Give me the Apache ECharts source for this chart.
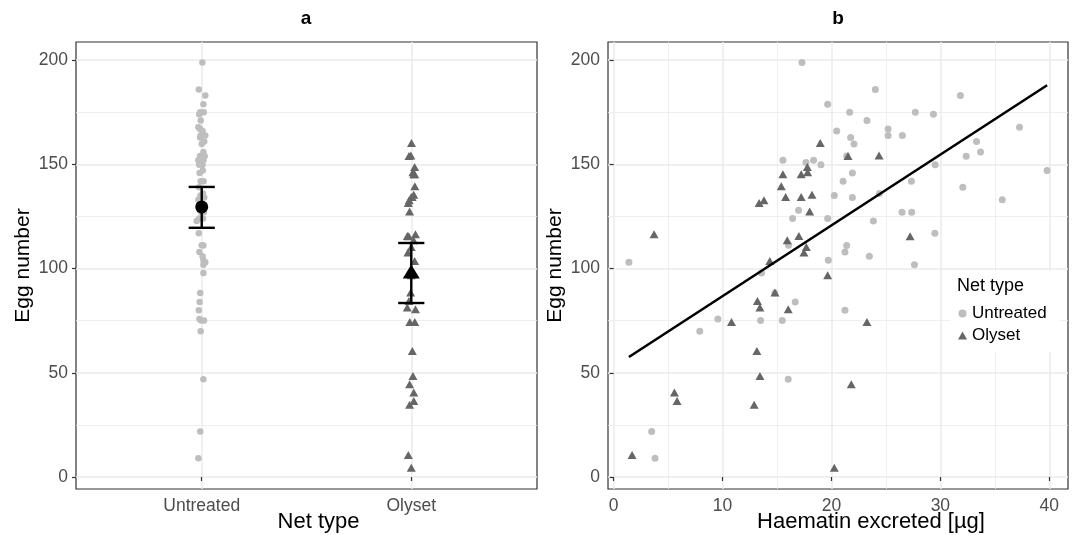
<!DOCTYPE html>
<html lang="en">
<head>
    <meta charset="UTF-8">
    <title>Egg number by net type</title>
    <script src="https://cdn.jsdelivr.net/npm/echarts@6/dist/echarts.min.js"></script>
    <style>
        body { margin: 0; background: #fff; }
        #main { width: 1075px; height: 535px; }
    </style>
</head>
<body>
<div id="main"></div>
<script>
    // data
    var netTypes = ['Untreated', 'Olyset'];

    // untreated nets: haematin excreted (µg), egg number, jitter used in panel a
    var untreatedHaem = [17.29, 19.65, 15.54, 17.66, 18.36, 19.03, 16.98, 16.43, 19.65, 1.4,
        16.05, 19.71, 13.58, 16.67, 9.57, 13.49, 15.48, 7.91, 16.03, 3.49,
        3.8, 24.03, 31.84, 21.67, 27.7, 29.36, 23.26, 20.48, 25.2, 25.2,
        26.51, 21.76, 22.07, 37.27, 33.32, 33.69, 32.37, 21.4, 29.52, 39.8,
        21.92, 21.07, 27.34, 32.06, 20.26, 21.92, 24.4, 35.68, 26.48, 27.37,
        23.85, 29.49, 21.4, 21.24, 23.48, 27.62, 21.24, 14.8];
    var untreatedEggs = [198.9, 178.9, 152, 150.9, 152, 149.9, 128, 124, 124, 103,
        111.2, 104, 97.9, 84, 75.8, 75.1, 75.1, 69.9, 46.9, 21.9,
        9, 185.9, 183.1, 175, 175, 174.1, 171.1, 166.1, 167, 163.9,
        163.9, 162.9, 159.8, 167.8, 161, 156, 153.9, 154.1, 149.9, 147.1,
        145.9, 141.9, 141.9, 139, 135.1, 134.1, 136, 133, 127, 127,
        122.9, 117, 111.1, 108, 105.9, 101.9, 80, 88.3];
    var untreatedJitter = [0.003, 0.008, 0.008, -0.008, -0.016, 0.004, -0.010, -0.012, 0.006, 0.017,
        0.000, 0.008, 0.008, -0.010, -0.011, 0.011, -0.003, -0.005, 0.008, -0.007,
        -0.016, -0.014, 0.017, -0.007, 0.010, -0.012, -0.005, 0.004, -0.008, 0.017,
        -0.005, -0.008, 0.000, -0.016, 0.012, 0.008, 0.014, -0.008, -0.012, 0.005,
        -0.010, -0.005, 0.009, -0.013, -0.006, 0.012, 0.006, -0.016, 0.010, -0.002,
        -0.024, -0.014, 0.008, -0.011, 0.004, 0.008, -0.014, -0.007];

    // Olyset nets
    var olysetHaem = [18.97, 17.78, 15.54, 17.22, 17.81, 15.39, 15.79, 17.22, 18.21, 13.36,
        13.8, 18.0, 3.71, 15.94, 17.01, 17.69, 17.47, 14.34, 19.65, 14.81,
        13.2, 13.43, 16.03, 10.82, 13.15, 13.43, 5.58, 5.82, 12.9, 1.69,
        21.52, 24.37, 27.22, 23.26, 21.82, 20.26];
    var olysetEggs = [160.3, 148.8, 145.3, 145.3, 146.2, 139.5, 134.4, 134.4, 135.5, 131.5,
        132.8, 127.4, 116.5, 113.6, 115.7, 110.4, 107.7, 103.7, 96.8, 88.6,
        84.5, 81.3, 80.5, 74.4, 60.5, 48.5, 40.5, 36.5, 34.7, 10.6,
        154.1, 154.3, 115.5, 74.4, 44.5, 4.5];
    var olysetJitter = [0.001, 0.016, 0.016, 0.012, 0.008, 0.017, 0.000, 0.004, 0.012, -0.014,
        -0.010, -0.008, 0.020, 0.011, -0.019, 0.000, -0.016, 0.016, 0.000, -0.003,
        -0.011, -0.019, 0.020, -0.007, 0.005, 0.008, 0.012, 0.012, -0.008, -0.014,
        -0.011, -0.002, -0.012, 0.017, -0.008, 0.000];

    // panel a summaries (mean with interval)
    var eggMean = [129.6, 98.6];
    var eggLow = [119.6, 83.5];
    var eggHigh = [139.2, 112.3];

    // panel b regression line ends
    var fitHaem = [1.4, 39.8];
    var fitEggs = [57.6, 188.0];

    // axis breaks
    var eggTicks = [0, 50, 100, 150, 200];
    var eggMinor = [25, 75, 125, 175];
    var haemTicks = [0, 10, 20, 30, 40];
    var haemMinor = [5, 15, 25, 35];

    var FONT = '"Liberation Sans", Arial, Helvetica, sans-serif';
    var LIGHT = '#bebebe';
    var DARK = '#666666';
    var GRID_COL = '#ebebeb';
    var CAP = 0.0625;

    function zip(xs, ys) {
        return xs.map(function (x, i) { return [x, ys[i]]; });
    }

    var untreatedA = untreatedEggs.map(function (v, i) { return [1 + untreatedJitter[i], v]; });
    var olysetA = olysetEggs.map(function (v, i) { return [2 + olysetJitter[i], v]; });

    // nudge: left padding that moves the centred axis title to the right
    function majorX(grid, min, max, ticks, fmt, name, nudge) {
        return {
            type: 'value', gridIndex: grid, min: min, max: max,
            name: name, nameLocation: 'middle', nameGap: 22, nameMoveOverlap: false,
            nameTextStyle: { fontSize: 22, color: '#000', fontFamily: FONT, padding: [0, 0, 0, nudge] },
            axisLine: { show: false },
            axisTick: { show: true, length: 4, customValues: ticks, lineStyle: { color: '#333', width: 1.2 } },
            axisLabel: { show: true, customValues: ticks, margin: 8, fontSize: 17.5, color: '#4d4d4d',
                fontFamily: FONT, formatter: fmt },
            splitLine: { show: true, lineStyle: { color: GRID_COL, width: 1.5 } }
        };
    }
    function minorAxis(type, grid, min, max, vals) {
        var ax = {
            type: 'value', gridIndex: grid, min: min, max: max,
            axisLine: { show: false },
            axisTick: { show: false, customValues: vals },
            axisLabel: { show: false },
            splitLine: { show: true, lineStyle: { color: GRID_COL, width: 0.8 } }
        };
        if (type === 'y') ax.position = 'left';
        return ax;
    }
    function majorY(grid) {
        return {
            type: 'value', gridIndex: grid, min: -5.75, max: 208.75, position: 'left',
            name: 'Egg number', nameLocation: 'middle', nameGap: 42, nameRotate: 90, nameMoveOverlap: false,
            nameTextStyle: { fontSize: 21, color: '#000', fontFamily: FONT },
            axisLine: { show: false },
            axisTick: { show: true, length: 4, customValues: eggTicks, lineStyle: { color: '#333', width: 1.2 } },
            axisLabel: { show: true, customValues: eggTicks, margin: 8, fontSize: 17.5, color: '#4d4d4d', fontFamily: FONT },
            splitLine: { show: true, lineStyle: { color: GRID_COL, width: 1.5 } }
        };
    }

    var chart = echarts.init(document.getElementById('main'));
    var option = {
        animation: false,
        backgroundColor: '#fff',
        textStyle: { fontFamily: FONT },
        title: [
            { text: 'a', left: 306, top: 9, textAlign: 'center', padding: 0,
                textStyle: { fontSize: 19, fontWeight: 'bold', color: '#000' } },
            { text: 'b', left: 838, top: 9, textAlign: 'center', padding: 0,
                textStyle: { fontSize: 19, fontWeight: 'bold', color: '#000' } },
            { text: 'Net type', left: 957, top: 277, padding: 0, z: 10,
                textStyle: { fontSize: 18, fontWeight: 'normal', color: '#000' } }
        ],
        legend: {
            orient: 'vertical', left: 950, top: 271,
            padding: [34, 14, 8, 8], itemGap: 5, itemWidth: 9, itemHeight: 8,
            backgroundColor: '#fff', selectedMode: false,
            textStyle: { fontSize: 17, color: '#000', fontFamily: FONT },
            data: [{ name: 'Untreated', icon: 'circle' }, { name: 'Olyset', icon: 'triangle' }]
        },
        grid: [
            { left: 76, top: 42, width: 461, height: 447, show: true, borderColor: '#333', borderWidth: 1.2,
                containLabel: false, outerBoundsMode: 'none' },
            { left: 608, top: 42, width: 460, height: 447, show: true, borderColor: '#333', borderWidth: 1.2,
                containLabel: false, outerBoundsMode: 'none' }
        ],
        xAxis: [
            majorX(0, 0.4, 2.6, [1, 2], function (v) { return netTypes[Math.round(v) - 1]; }, 'Net type', 24),
            majorX(1, -0.52, 41.72, haemTicks, null, 'Haematin excreted [µg]', 66),
            minorAxis('x', 1, -0.52, 41.72, haemMinor)
        ],
        yAxis: [
            majorY(0),
            minorAxis('y', 0, -5.75, 208.75, eggMinor),
            majorY(1),
            minorAxis('y', 1, -5.75, 208.75, eggMinor)
        ],
        series: [
            // panel a
            { name: 'Untreated', type: 'scatter', xAxisIndex: 0, yAxisIndex: 0, data: untreatedA,
                symbol: 'circle', symbolSize: 6.5, itemStyle: { color: LIGHT, opacity: 1 } },
            { name: 'Olyset', type: 'scatter', xAxisIndex: 0, yAxisIndex: 0, data: olysetA,
                symbol: 'triangle', symbolSize: [9, 8], itemStyle: { color: DARK, opacity: 1 } },
            { name: 'interval', type: 'custom', xAxisIndex: 0, yAxisIndex: 0, z: 5,
                encode: { x: 0, y: [1, 2] },
                data: netTypes.map(function (n, i) { return [i + 1, eggLow[i], eggHigh[i]]; }),
                renderItem: function (params, api) {
                    var x = api.value(0);
                    var top = api.coord([x, api.value(2)]);
                    var bot = api.coord([x, api.value(1)]);
                    var l = api.coord([x - CAP, 0])[0];
                    var r = api.coord([x + CAP, 0])[0];
                    var st = { stroke: '#000', lineWidth: 2.4 };
                    return { type: 'group', children: [
                        { type: 'line', shape: { x1: top[0], y1: top[1], x2: bot[0], y2: bot[1] }, style: st },
                        { type: 'line', shape: { x1: l, y1: top[1], x2: r, y2: top[1] }, style: st },
                        { type: 'line', shape: { x1: l, y1: bot[1], x2: r, y2: bot[1] }, style: st }
                    ] };
                } },
            { name: 'meanU', type: 'scatter', xAxisIndex: 0, yAxisIndex: 0, z: 6,
                data: [[1, eggMean[0]]], symbol: 'circle', symbolSize: 13, itemStyle: { color: '#000', opacity: 1 } },
            { name: 'meanO', type: 'scatter', xAxisIndex: 0, yAxisIndex: 0, z: 6,
                data: [[2, eggMean[1]]], symbol: 'triangle', symbolSize: [17, 14], itemStyle: { color: '#000', opacity: 1 } },
            // panel b
            { name: 'Untreated', type: 'scatter', xAxisIndex: 1, yAxisIndex: 2, data: zip(untreatedHaem, untreatedEggs),
                symbol: 'circle', symbolSize: 7, itemStyle: { color: LIGHT, opacity: 1 } },
            { name: 'Olyset', type: 'scatter', xAxisIndex: 1, yAxisIndex: 2, data: zip(olysetHaem, olysetEggs),
                symbol: 'triangle', symbolSize: [9, 8], itemStyle: { color: DARK, opacity: 1 } },
            { name: 'fit', type: 'line', xAxisIndex: 1, yAxisIndex: 2, z: 5, data: zip(fitHaem, fitEggs),
                symbol: 'none', lineStyle: { color: '#000', width: 2.6 } }
        ]
    };
    chart.setOption(option);
</script>
</body>
</html>
